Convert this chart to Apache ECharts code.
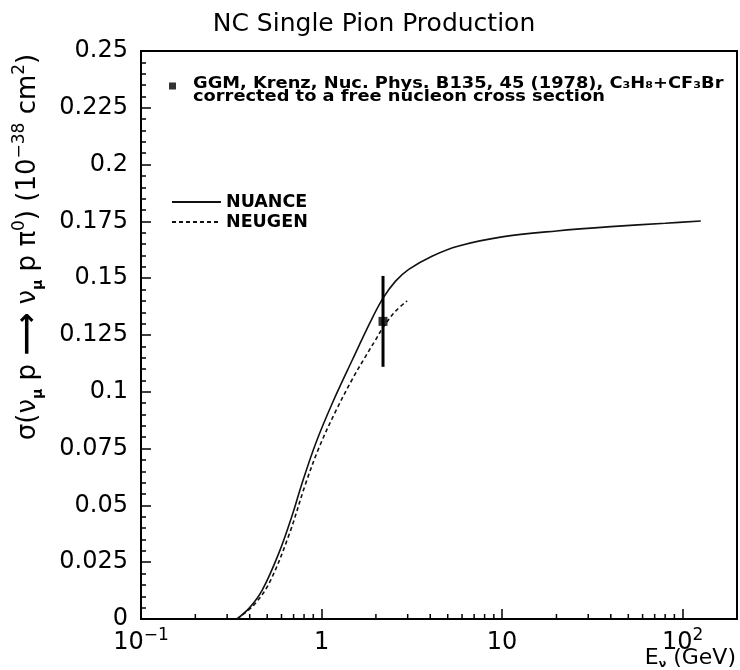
<!DOCTYPE html>
<html>
<head>
<meta charset="utf-8">
<script src="https://cdn.jsdelivr.net/npm/echarts@6/dist/echarts.min.js"></script>
<style>
  html, body { margin: 0; padding: 0; background: #fff; }
  #chart { width: 740px; height: 670px; }
</style>
</head>
<body>
<div id="chart"></div>
<script>
// NUANCE prediction: neutrino energy (GeV) and cross section (1e-38 cm^2)
const nuanceE  = [0.34, 0.40, 0.47, 0.58, 0.69, 0.78, 0.93, 1.15, 1.48, 1.87, 2.19, 2.57, 3.04, 4.09, 5.75, 10, 20, 40, 80, 126];
const nuanceXS = [0, 0.005, 0.0128, 0.029, 0.046, 0.0598, 0.0775, 0.0952, 0.1140, 0.1310, 0.1412, 0.1487, 0.1539, 0.1597, 0.1642, 0.1682, 0.1708, 0.1727, 0.1742, 0.1752];

// NEUGEN prediction
const neugenE  = [0.34, 0.42, 0.513, 0.66, 0.818, 0.969, 1.198, 1.479, 1.75, 1.99, 2.22, 2.57, 2.98];
const neugenXS = [0, 0.006, 0.0158, 0.037, 0.0598, 0.0755, 0.0915, 0.1055, 0.1155, 0.1228, 0.129, 0.1355, 0.140];

// GGM measurement with its uncertainty
const ggmE   = [2.19];
const ggmXS  = [0.131];
const ggmErr = [0.020];

// axis ticks
const xTickValues = [0.1, 1, 10, 100];
const xTickLabels = ['{b|10}{s|\u22121}', '{b|1}', '{b|10}', '{b|10}{s|2}'];
const xMinorTicks = [0.2, 0.3, 0.4, 0.5, 0.6, 0.7, 0.8, 0.9, 2, 3, 4, 5, 6, 7, 8, 9, 20, 30, 40, 50, 60, 70, 80, 90];

const FONT = 'DejaVu Sans';
const ggmName = 'GGM';
const ggmCaption = 'GGM, Krenz, Nuc. Phys. B135, 45 (1978), C\u2083H\u2088+CF\u2083Br\ncorrected to a free nucleon cross section';
const LEGEND_FONT = 17.5;

const chart = echarts.init(document.getElementById('chart'), null, { renderer: 'canvas' });

const option = {
  animation: false,
  backgroundColor: '#fff',
  title: {
    text: 'NC Single Pion Production',
    left: 369,
    textAlign: 'center',
    top: 7,
    textStyle: { fontFamily: FONT, fontSize: 25, fontWeight: 'normal', color: '#000' }
  },
  grid: {
    left: 141, right: 3, top: 51, bottom: 51,
    show: true, borderColor: '#000', borderWidth: 2, backgroundColor: 'transparent'
  },
  legend: [
    {
      // marker key for the measurement; its caption is drawn as a two-line text block
      data: [ggmName],
      left: 164, top: 71,
      orient: 'vertical',
      icon: 'path://M0,0h10v10h-10z',
      itemWidth: 31, itemHeight: 7,
      selectedMode: false,
      formatter: function () { return ' '; },
      textStyle: { fontFamily: FONT, fontSize: 15, lineHeight: 20, color: '#000' }
    },
    {
      data: ['NUANCE', 'NEUGEN'],
      left: 166, top: 187,
      orient: 'vertical',
      itemWidth: 49, itemHeight: 14, itemGap: 0,
      selectedMode: false,
      itemStyle: { opacity: 0 },
      textStyle: { fontFamily: FONT, fontWeight: 'bold', fontSize: LEGEND_FONT, lineHeight: 20, color: '#000' }
    }
  ],
  xAxis: {
    type: 'log',
    logBase: 10,
    min: 0.1,
    max: 200,
    axisLine: { show: true, lineStyle: { color: '#000', width: 2 } },
    axisTick: { show: true, inside: true, length: 10, lineStyle: { color: '#000', width: 1.5 } },
    splitLine: { show: false },
    axisLabel: {
      showMaxLabel: false,
      margin: 8,
      color: '#000',
      formatter: function (v) {
        for (let i = 0; i < xTickValues.length; i++) {
          if (Math.abs(Math.log10(v) - Math.log10(xTickValues[i])) < 1e-6) return xTickLabels[i];
        }
        return '';
      },
      rich: {
        b: { fontFamily: FONT, fontSize: 24, color: '#000', lineHeight: 28, verticalAlign: 'bottom' },
        s: { fontFamily: FONT, fontSize: 17, color: '#000', lineHeight: 17, verticalAlign: 'top' }
      }
    }
  },
  yAxis: {
    type: 'value',
    min: 0,
    max: 0.25,
    interval: 0.025,
    axisLine: { show: true, lineStyle: { color: '#000', width: 2 } },
    axisTick: { show: true, inside: true, length: 10, lineStyle: { color: '#000', width: 1.5 } },
    minorTick: { show: true, splitNumber: 5, length: 5, lineStyle: { color: '#000', width: 1.5 } },
    splitLine: { show: false },
    axisLabel: { margin: 13, color: '#000', fontFamily: FONT, fontSize: 24 }
  },
  graphic: [
    {
      // measurement caption, slightly widened bold face
      type: 'text',
      x: 193, y: 77,
      scaleX: 1.15,
      style: {
        text: ggmCaption,
        fill: '#000',
        font: 'bold 15.5px "' + FONT + '"',
        lineHeight: 13.5,
        verticalAlign: 'top', textVerticalAlign: 'top'
      }
    },
    {
      type: 'text',
      x: 28, y: 247,
      rotation: Math.PI / 2,
      style: {
        text: '{t|\u03c3(\u03bd}{sub|\u03bc}{t| p }{ar|\u27f6}{t| \u03bd}{sub|\u03bc}{t| p \u03c0}{sup|0}{t|) (10}{sup|\u221238}{t| cm}{sup|2}{t|)}',
        align: 'center', verticalAlign: 'middle',
        textAlign: 'center', textVerticalAlign: 'middle',
        fill: '#000',
        rich: {
          t: { fontFamily: FONT, fontSize: 26, lineHeight: 34, fill: '#000', color: '#000' },
          ar: { fontFamily: FONT, fontSize: 30, fontWeight: 'bold', lineHeight: 34, fill: '#000', color: '#000' },
          sub: { fontFamily: FONT, fontSize: 14, fontWeight: 'bold', lineHeight: 15, verticalAlign: 'bottom', fill: '#000', color: '#000' },
          sup: { fontFamily: FONT, fontSize: 17, lineHeight: 17, verticalAlign: 'top', fill: '#000', color: '#000' }
        }
      }
    },
    {
      type: 'text',
      right: 4, bottom: 0,
      style: {
        text: '{t|E}{sub|\u03bd}{t| (GeV)}',
        fill: '#000',
        rich: {
          t: { fontFamily: FONT, fontSize: 22, lineHeight: 24, fill: '#000', color: '#000' },
          sub: { fontFamily: FONT, fontSize: 11, fontWeight: 'bold', lineHeight: 11, verticalAlign: 'bottom', fill: '#000', color: '#000' }
        }
      }
    }
  ],
  series: [
    {
      name: 'NUANCE',
      type: 'line',
      data: nuanceE.map((e, i) => [e, nuanceXS[i]]),
      symbol: 'none',
      smooth: 0.35,
      color: '#111',
      lineStyle: { color: '#111', width: 1.6, type: 'solid' },
      z: 3
    },
    {
      name: 'NEUGEN',
      type: 'line',
      data: neugenE.map((e, i) => [e, neugenXS[i]]),
      symbol: 'none',
      smooth: 0.35,
      color: '#111',
      lineStyle: { color: '#111', width: 1.6, type: [4, 3] },
      z: 3
    },
    {
      name: 'ggmError',
      type: 'custom',
      data: ggmE.map((e, i) => [e, ggmXS[i] - ggmErr[i], ggmXS[i] + ggmErr[i]]),
      renderItem: function (params, api) {
        const lo = api.coord([api.value(0), api.value(1)]);
        const hi = api.coord([api.value(0), api.value(2)]);
        return {
          type: 'line',
          shape: { x1: lo[0], y1: lo[1], x2: hi[0], y2: hi[1] },
          style: { stroke: '#000', lineWidth: 3 }
        };
      },
      z: 4
    },
    {
      name: ggmName,
      type: 'scatter',
      data: ggmE.map((e, i) => [e, ggmXS[i]]),
      symbol: 'rect',
      symbolSize: 9,
      itemStyle: { color: '#000' },
      z: 5
    },
    {
      name: 'xMinor',
      type: 'custom',
      data: xMinorTicks.map(v => [v, 0]),
      renderItem: function (params, api) {
        const p = api.coord([api.value(0), 0]);
        return {
          type: 'line',
          shape: { x1: p[0], y1: p[1], x2: p[0], y2: p[1] - 5 },
          style: { stroke: '#000', lineWidth: 1.5 }
        };
      },
      silent: true,
      z: 6
    }
  ]
};

chart.setOption(option);
</script>
</body>
</html>
